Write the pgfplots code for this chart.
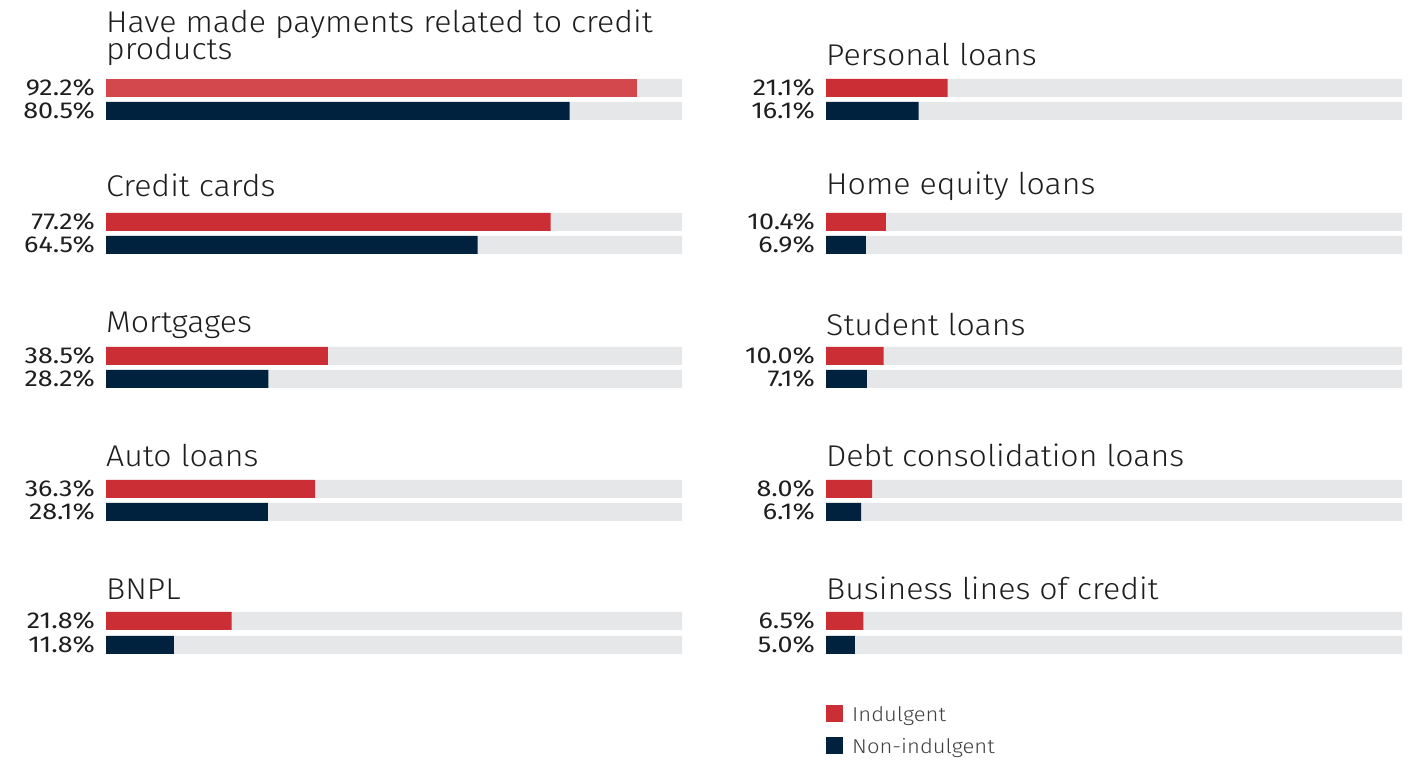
\documentclass[border=0pt]{standalone}
\usepackage{pgfplots}
\pgfplotsset{compat=1.18}
\usepackage{fontspec}
\setmainfont{Fira Sans Light}[FakeStretch=1.07]
\newfontfamily\valfont{Fira Sans}[FakeStretch=1.17]
\newfontfamily\legfont{Fira Sans Light}[FakeStretch=1.10]

\definecolor{indred}{HTML}{CC2E36}
\definecolor{indredhi}{HTML}{D2484D}
\definecolor{navy}{HTML}{00223F}
\definecolor{track}{HTML}{E6E7E9}
\definecolor{ink}{HTML}{1E1E1E}

\pgfplotsset{
  panel/.style={
    scale only axis, width=576bp, height=760bp,
    xmin=0, xmax=100, ymin=-760, ymax=0,
    axis lines=none, clip=false,
    xbar, bar width=18bp, bar shift=0pt,
    anchor=north west,
  },
}
\tikzset{
  ttl/.style={anchor=base west, inner sep=0pt, text=ink,
    font=\fontsize{30bp}{33bp}\selectfont},
  val/.style={anchor=base east, inner sep=0pt, text=ink, xshift=-11bp,
    font=\valfont\fontsize{23bp}{26bp}\selectfont},
}

\begin{document}
\begin{tikzpicture}
\useasboundingbox (0,0) rectangle (1415bp,760bp);

% left column
\begin{axis}[panel, at={(106bp,760bp)}]
\addplot[fill=track, draw=none, forget plot] coordinates {
  (100,-88) (100,-111) (100,-222) (100,-245) (100,-356) (100,-379)
  (100,-489) (100,-512) (100,-621) (100,-645)};
\addplot[fill=indredhi, draw=none, forget plot] coordinates {(92.2,-88)};
\addplot[fill=indred, draw=none, forget plot] coordinates {
  (77.2,-222) (38.5,-356) (36.3,-489) (21.8,-621)};
\addplot[fill=navy, draw=none, forget plot] coordinates {
  (80.5,-111) (64.5,-245) (28.2,-379) (28.1,-512) (11.8,-645)};

\node[ttl] at (axis cs:0,-33) {Have made payments related to credit};
\node[ttl] at (axis cs:0,-60) {products};
\node[ttl] at (axis cs:0,-197) {Credit cards};
\node[ttl] at (axis cs:0,-333) {Mortgages};
\node[ttl] at (axis cs:0,-467) {Auto loans};
\node[ttl] at (axis cs:0,-600) {BNPL};

\node[val] at (axis cs:0,-96) {92.2\%};
\node[val] at (axis cs:0,-119) {80.5\%};
\node[val] at (axis cs:0,-230) {77.2\%};
\node[val] at (axis cs:0,-253) {64.5\%};
\node[val] at (axis cs:0,-364) {38.5\%};
\node[val] at (axis cs:0,-387) {28.2\%};
\node[val] at (axis cs:0,-497) {36.3\%};
\node[val] at (axis cs:0,-520) {28.1\%};
\node[val] at (axis cs:0,-629) {21.8\%};
\node[val] at (axis cs:0,-653) {11.8\%};
\end{axis}

% right column
\begin{axis}[panel, at={(826bp,760bp)},
  legend style={at={(axis cs:0,-705)}, anchor=north west, draw=none, fill=none,
    inner sep=0pt, row sep=15bp, text=ink!85,
    font=\legfont\fontsize{20bp}{22bp}\selectfont,
    nodes={inner sep=0pt, anchor=west, text depth=0pt}},
  legend cell align=left,
  legend image code/.code={\fill[#1] (0bp,-8.5bp) rectangle (17bp,8.5bp);},
]
\addplot[fill=track, draw=none, forget plot] coordinates {
  (100,-88) (100,-111) (100,-222) (100,-245) (100,-356) (100,-379)
  (100,-489) (100,-512) (100,-621) (100,-645)};
\addplot[fill=indred, draw=none] coordinates {
  (21.1,-88) (10.4,-222) (10.0,-356) (8.0,-489) (6.5,-621)};
\addlegendentry{\hspace{9bp}Indulgent}
\addplot[fill=navy, draw=none] coordinates {
  (16.1,-111) (6.9,-245) (7.1,-379) (6.1,-512) (5.0,-645)};
\addlegendentry{\hspace{9bp}Non-indulgent}

\node[ttl] at (axis cs:0,-66) {Personal loans};
\node[ttl] at (axis cs:0,-195) {Home equity loans};
\node[ttl] at (axis cs:0,-336) {Student loans};
\node[ttl] at (axis cs:0,-467) {Debt consolidation loans};
\node[ttl] at (axis cs:0,-600) {Business lines of credit};

\node[val] at (axis cs:0,-96) {21.1\%};
\node[val] at (axis cs:0,-119) {16.1\%};
\node[val] at (axis cs:0,-230) {10.4\%};
\node[val] at (axis cs:0,-253) {6.9\%};
\node[val] at (axis cs:0,-364) {10.0\%};
\node[val] at (axis cs:0,-387) {7.1\%};
\node[val] at (axis cs:0,-497) {8.0\%};
\node[val] at (axis cs:0,-520) {6.1\%};
\node[val] at (axis cs:0,-629) {6.5\%};
\node[val] at (axis cs:0,-653) {5.0\%};
\end{axis}
\end{tikzpicture}
\end{document}
